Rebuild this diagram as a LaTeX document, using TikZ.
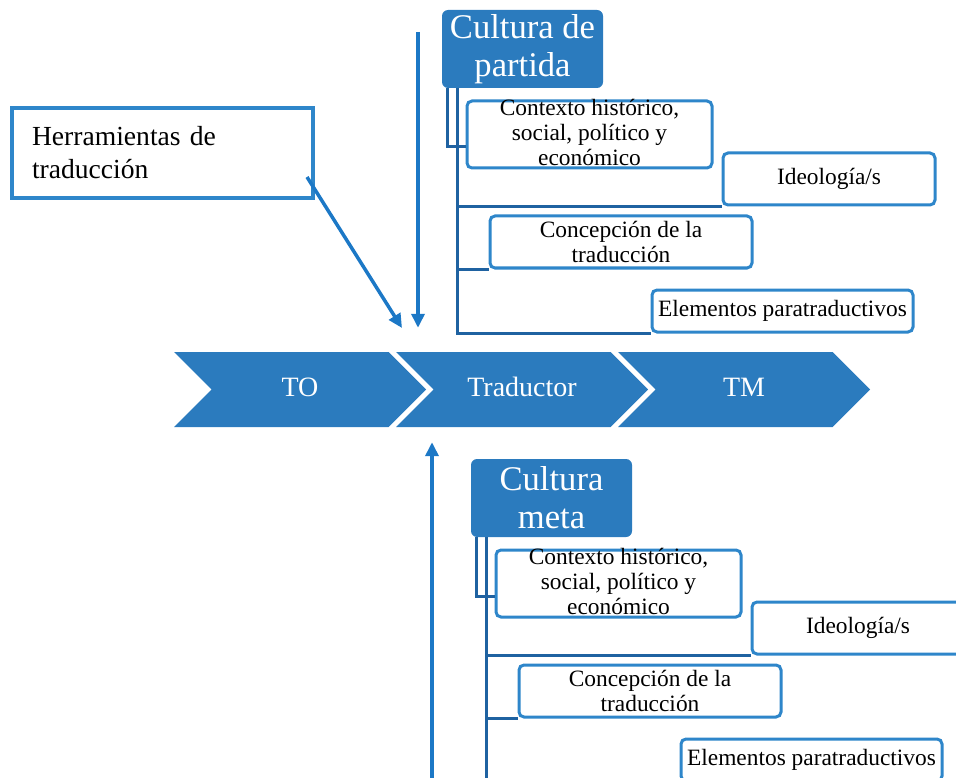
\documentclass[tikz,border=0pt]{standalone}
\usepackage{fontspec}
\setmainfont{Liberation Serif}
\usetikzlibrary{arrows.meta,shapes.symbols,calc}
\definecolor{trBlue}{HTML}{2B7BBE}
\definecolor{trDark}{HTML}{1F62A1}
\definecolor{trEdge}{HTML}{2E86CA}
\definecolor{trArrow}{HTML}{1C78C6}

\begin{document}
\begin{tikzpicture}[x=1pt,y=-1pt,>={Triangle[length=14pt,width=13pt]},
  chevron/.style={signal,signal to=east,signal from=west,signal pointer angle=90,
    fill=trBlue,text=white,minimum width=252pt,minimum height=75pt,inner sep=0pt,
    text height=19pt,text depth=6pt,font=\fontsize{28}{30}\selectfont},
  headbox/.style={fill=trBlue,rounded corners=6pt,text=white,align=center,inner sep=0pt,
    font=\fontsize{34.6}{38}\selectfont},
  subbox/.style={draw=trEdge,line width=3pt,rounded corners=5pt,fill=white,align=center,
    inner sep=0pt,font=\fontsize{23.4}{25}\selectfont},
  branch/.style={trDark,line width=3pt},
  feed/.style={->,trArrow,line width=3.5pt}]
  \useasboundingbox (0,0) rectangle (956,778);
  \clip (0,0) rectangle (956,778);
  % process chevrons
  \foreach \n/\x/\t in {to/300/TO, trad/522/Traductor, tm/744/TM}
    \node[chevron] (\n) at (\x,389.5) {\t};
  % tools box
  \node[draw=trEdge,line width=4pt,fill=white,text width=261pt,inner xsep=20pt,inner ysep=0pt,
    minimum height=90pt,align=left,font=\fontsize{27.6}{33}\selectfont] (herr) at (162.5,153)
    {Herramientas de\\traducción};
  % arrows into the translator
  \coordinate (topIn) at (418,32);
  \coordinate (botIn) at (432,778);
  \coordinate (toolTip) at (402,328);
  \draw[feed,shorten >=24pt] (topIn) -- (topIn |- trad.north);
  \draw[feed] ([xshift=-8pt,yshift=23pt]herr.south east) -- (toolTip);
  \draw[feed,shorten >=15pt] (botIn) -- (botIn |- trad.south);
  % source and target culture
  \foreach \grp/\dx/\dy/\ttl in {p/0/0/{Cultura de\\partida}, m/29/449/{Cultura\\meta}}{
    \begin{scope}[shift={(\dx,\dy)}]
      \node[headbox,minimum width=161pt,minimum height=78pt] (\grp-head) at (522.5,49) {\ttl};
      \node[subbox,minimum width=245pt,minimum height=67pt] (\grp-ctx) at (589.5,134.5) {};
      \node[subbox,draw=none,fill=none] (\grp-ctxtxt) at ([yshift=2pt]\grp-ctx.center) {Contexto histórico,\\social, político y\\económico};
      \node[subbox,minimum width=212pt,minimum height=52pt] (\grp-ideo) at (829,179) {Ideología/s};
      \node[subbox,minimum width=262pt,minimum height=52pt] (\grp-conc) at (621,242) {Concepción de la\\traducción};
      \node[subbox,minimum width=261pt,minimum height=42pt] (\grp-elem) at (782.5,311) {Elementos paratraductivos};
      \coordinate (\grp-bar) at (447,88);
      \coordinate (\grp-trunk) at (457,88);
      \draw[branch] (\grp-bar) |- ([yshift=-12.5pt]\grp-ctx.west);
      \draw[branch] (\grp-trunk) |- (\grp-elem.south west);
      \draw[branch] (\grp-trunk |- \grp-ideo.south west) -- (\grp-ideo.south west);
      \draw[branch] (\grp-trunk |- \grp-conc.south west) -- (\grp-conc.south west);
    \end{scope}}
\end{tikzpicture}
\end{document}
